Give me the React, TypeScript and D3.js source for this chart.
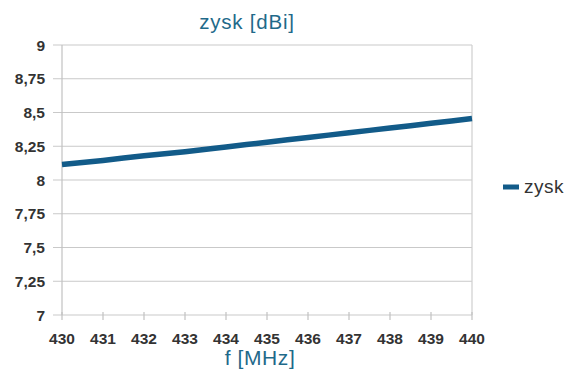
import React from "react";
import * as d3 from "d3";

// Gain of the antenna across the band
const frequencies = [430, 431, 432, 433, 434, 435, 436, 437, 438, 439, 440];
const gain = [8.115, 8.145, 8.18, 8.21, 8.245, 8.28, 8.315, 8.35, 8.385, 8.42, 8.455];
const yTicks = [7, 7.25, 7.5, 7.75, 8, 8.25, 8.5, 8.75, 9];
const seriesName = "zysk";
const chartTitle = "zysk [dBi]";
const xTitle = "f [MHz]";

const W = 572;
const H = 370;
const M = { left: 62, right: 472, top: 45, bottom: 315 };

const fmt = (v: number) => String(v).replace(".", ",");

export default function App() {
  const x = d3.scaleLinear().domain([430, 440]).range([M.left, M.right]);
  const y = d3.scaleLinear().domain([7, 9]).range([M.bottom, M.top]);
  const line = d3
    .line<number>()
    .x((_, i) => x(frequencies[i]))
    .y((d) => y(d))
    .curve(d3.curveMonotoneX);

  const font = "'Liberation Sans', Arial, Helvetica, sans-serif";

  return (
    <svg
      width={W}
      height={H}
      style={{ position: "absolute", left: 0, top: 0, background: "#fff" }}
      fontFamily={font}
    >
      <rect x={0} y={0} width={W} height={H} fill="#fff" />
      {/* horizontal grid */}
      {yTicks.map((t) => (
        <line
          key={"g" + t}
          x1={M.left - 9}
          x2={M.right}
          y1={y(t)}
          y2={y(t)}
          stroke="#c9c9c9"
          strokeWidth={1.2}
        />
      ))}
      {/* frame */}
      <line x1={M.left} x2={M.left} y1={M.top} y2={M.bottom} stroke="#c2c2c2" strokeWidth={1.2} />
      <line x1={M.right} x2={M.right} y1={M.top} y2={M.bottom} stroke="#cfcfcf" strokeWidth={1.2} />
      {/* x ticks */}
      {frequencies.map((f) => (
        <line
          key={"t" + f}
          x1={x(f)}
          x2={x(f)}
          y1={M.bottom - 3}
          y2={M.bottom + 5}
          stroke="#c2c2c2"
          strokeWidth={1.2}
        />
      ))}
      {/* y labels */}
      {yTicks.map((t) => (
        <text
          key={"l" + t}
          x={45}
          y={y(t) + 5.5}
          textAnchor="end"
          fontSize={15.5}
          fontWeight="bold"
          fill="#333"
        >
          {fmt(t)}
        </text>
      ))}
      {/* x labels */}
      {frequencies.map((f) => (
        <text
          key={"x" + f}
          x={x(f)}
          y={344}
          textAnchor="middle"
          fontSize={15.5}
          fontWeight="bold"
          fill="#333"
        >
          {f}
        </text>
      ))}
      {/* series */}
      <path d={line(gain) ?? ""} fill="none" stroke="#125b89" strokeWidth={5.5} strokeLinecap="butt" />
      {/* titles */}
      <text x={247} y={29} textAnchor="middle" fontSize={20.5} fill="#1f6a8a" letterSpacing={0.8}>
        {chartTitle}
      </text>
      <text x={260} y={365} textAnchor="middle" fontSize={21} fill="#1f6a8a" letterSpacing={0.6}>
        {xTitle}
      </text>
      {/* legend */}
      <line x1={503} x2={519} y1={187} y2={187} stroke="#125b89" strokeWidth={5} />
      <text x={524} y={193} fontSize={19} fill="#333" letterSpacing={0.5}>
        {seriesName}
      </text>
    </svg>
  );
}
